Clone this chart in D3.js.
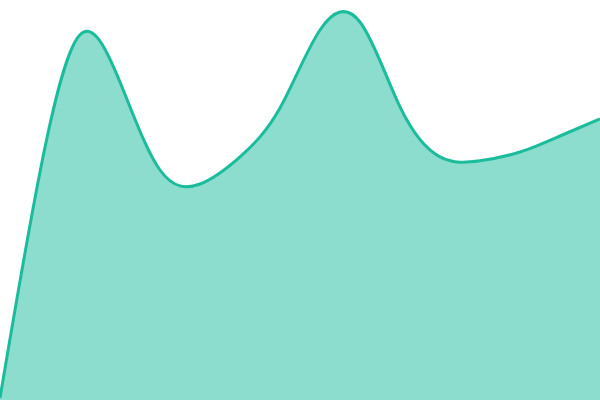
<!DOCTYPE html>
<html>
<head>
<meta charset="utf-8">
<script src="https://cdn.jsdelivr.net/npm/d3@7"></script>
<style>
  html, body { margin: 0; padding: 0; background: #fff; }
  svg { display: block; }
</style>
</head>
<body>
<div id="chart"></div>
<script>
// 数据
const categories = d3.range(16);
const values = [0.5, 57, 91.3, 79.5, 57.5, 54, 60.8, 73, 92.5, 94.5, 73.3, 60.8, 59.8, 62, 66, 70.3];
const yDomain = [0, 100];

const width = 600;
const height = 400;
const lineColor = '#1abc9c';

const data = categories.map((c, i) => ({c, v: values[i]}));

const svg = d3.select('#chart')
    .append('svg')
    .attr('width', width)
    .attr('height', height);

const xScale = d3.scalePoint().domain(categories).range([0, width]);
const yScale = d3.scaleLinear().domain(yDomain).range([height, 0]);

const curve = d3.curveNatural;

const area = d3.area()
    .x(d => xScale(d.c))
    .y0(yScale(0))
    .y1(d => yScale(d.v))
    .curve(curve);

const line = d3.line()
    .x(d => xScale(d.c))
    .y(d => yScale(d.v))
    .curve(curve);

svg.append('path')
    .datum(data)
    .attr('fill', lineColor)
    .attr('fill-opacity', 0.5)
    .attr('d', area);

svg.append('path')
    .datum(data)
    .attr('fill', 'none')
    .attr('stroke', lineColor)
    .attr('stroke-width', 3)
    .attr('d', line);
</script>
</body>
</html>
